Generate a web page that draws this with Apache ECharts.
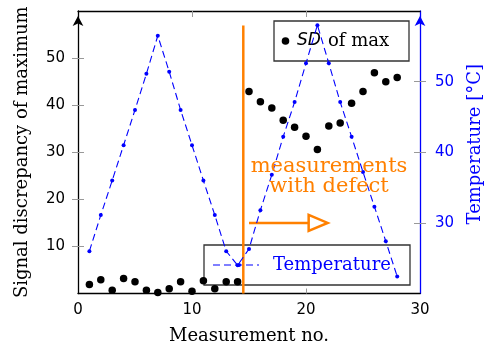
<!DOCTYPE html>
<html><head><meta charset="utf-8">
<script src="https://cdn.jsdelivr.net/npm/echarts@6/dist/echarts.min.js"></script>
<style>html,body{margin:0;padding:0;background:#fff}#c{width:486px;height:352px}</style>
</head><body><div id="c"></div>
<script>
// ---- data ----
const measurementNo = [1,2,3,4,5,6,7,8,9,10,11,12,13,14,15,16,17,18,19,20,21,22,23,24,25,26,27,28];
const sdOfMax = [1.9,2.9,0.7,3.2,2.5,0.7,0.2,1.0,2.5,0.5,2.7,1.0,2.5,2.5,42.9,40.7,39.4,36.8,35.3,33.4,30.6,35.6,36.2,40.4,42.9,46.9,45.0,45.9];
const temperature = [26.0,31.1,36.0,41.0,46.0,51.1,56.5,51.4,46.0,41.0,36.0,31.1,26.0,24.0,26.3,31.8,36.8,42.2,47.1,52.6,58.0,52.6,47.1,42.2,37.2,32.3,27.4,22.4];
const xTickLabels = [0,10,20,30];
const xInnerTicks = [10,20];
const leftTicks = [10,20,30,40,50];
const rightTicks = [30,40,50];
const defectLine = [[14.5, 0, 56.9]];          // x, from y, to y (left axis units)
const defectArrow = [[15, 15, 21.9, 15]];       // x0, y0, x1, y1 (left axis units)
const annotationText = 'measurements\nwith defect';

const ORANGE = '#ff8000', BLUE = '#0000ff', TICK = '#999';
const serif = 'DejaVu Serif', sans = 'DejaVu Sans';

const sdData = measurementNo.map((x, i) => [x, sdOfMax[i]]);
const tData = measurementNo.map((x, i) => [x, temperature[i]]);

const chart = echarts.init(document.getElementById('c'), null, {renderer: 'canvas'});

function yAxisBase(min, max, side) {
  return {type: 'value', min, max, interval: 10, position: side, splitLine: {show: false}};
}

chart.setOption({
  animation: false,
  backgroundColor: '#fff',
  grid: {left: 78, right: 66, top: 11, bottom: 58.5, containLabel: false, outerBoundsMode: 'none'},
  xAxis: [
    {type: 'value', min: 0, max: 30, interval: 10, position: 'bottom',
     axisLine: {show: true, onZero: false, lineStyle: {color: '#000', width: 1.3}},
     axisTick: {show: true, inside: true, length: 5, customValues: xInnerTicks, lineStyle: {color: TICK, width: 1}},
     axisLabel: {show: true, margin: 9, customValues: xTickLabels, fontFamily: sans, fontSize: 15, color: '#000'},
     splitLine: {show: false},
     name: 'Measurement no.', nameLocation: 'middle', nameGap: 34,
     nameTextStyle: {fontFamily: serif, fontSize: 18, color: '#000'}},
    {type: 'value', min: 0, max: 30, interval: 10, position: 'top',
     axisLine: {show: true, onZero: false, lineStyle: {color: '#000', width: 1.3}},
     axisTick: {show: true, inside: true, length: 6, customValues: xInnerTicks, lineStyle: {color: TICK, width: 1}},
     axisLabel: {show: false}, splitLine: {show: false}}
  ],
  yAxis: [
    Object.assign(yAxisBase(0, 60, 'left'), {
      axisLine: {show: true, onZero: false, symbol: ['none', 'arrow'], symbolSize: [8, 10], symbolOffset: [0, -5],
                 lineStyle: {color: '#000', width: 1.3}},
      axisTick: {show: true, inside: false, length: 6, customValues: leftTicks, lineStyle: {color: TICK, width: 1}},
      axisLabel: {show: true, margin: 13, customValues: leftTicks, fontFamily: sans, fontSize: 15, color: '#000'},
      name: 'Signal discrepancy of maximum', nameLocation: 'middle', nameGap: 47,
      nameTextStyle: {fontFamily: serif, fontSize: 18, color: '#000'}
    }),
    Object.assign(yAxisBase(20, 60, 'right'), {
      axisLine: {show: true, onZero: false, symbol: ['none', 'arrow'], symbolSize: [8, 10], symbolOffset: [0, -5],
                 lineStyle: {color: BLUE, width: 1.3}},
      axisTick: {show: true, inside: false, length: 6, customValues: rightTicks, lineStyle: {color: TICK, width: 1}},
      axisLabel: {show: true, margin: 15, customValues: rightTicks, fontFamily: sans, fontSize: 15, color: BLUE},
      name: 'Temperature [°C]', nameLocation: 'middle', nameGap: 46,
      nameTextStyle: {fontFamily: serif, fontSize: 18, color: BLUE, padding: [0, 0, 0, 16]}
    }),
    Object.assign(yAxisBase(0, 60, 'left'), {
      axisLine: {show: false, onZero: false},
      axisTick: {show: true, inside: true, length: 6, customValues: leftTicks, lineStyle: {color: TICK, width: 1}},
      axisLabel: {show: false}
    }),
    Object.assign(yAxisBase(20, 60, 'right'), {
      axisLine: {show: false, onZero: false},
      axisTick: {show: true, inside: true, length: 6, customValues: rightTicks, lineStyle: {color: TICK, width: 1}},
      axisLabel: {show: false}
    })
  ],
  series: [
    {name: 'SD of max', type: 'scatter', xAxisIndex: 0, yAxisIndex: 0, data: sdData,
     symbol: 'circle', symbolSize: 7.5, itemStyle: {color: '#000', opacity: 1}, z: 3},
    {name: 'Temperature', type: 'line', xAxisIndex: 0, yAxisIndex: 1, data: tData,
     symbol: 'circle', symbolSize: 4, showSymbol: true,
     lineStyle: {color: BLUE, width: 1.1, type: [7, 4]}, itemStyle: {color: BLUE, opacity: 1}, z: 4},
    {type: 'custom', xAxisIndex: 0, yAxisIndex: 0, data: defectLine, z: 2,
     encode: {x: 0, y: [1, 2]},
     renderItem: (params, api) => {
       const a = api.coord([api.value(0), api.value(1)]);
       const b = api.coord([api.value(0), api.value(2)]);
       return {type: 'line', shape: {x1: a[0], y1: a[1], x2: b[0], y2: b[1]},
               style: {stroke: ORANGE, lineWidth: 2.5}};
     }},
    {type: 'custom', xAxisIndex: 0, yAxisIndex: 0, data: defectArrow, z: 2,
     encode: {x: [0, 2], y: [1, 3]},
     renderItem: (params, api) => {
       const a = api.coord([api.value(0), api.value(1)]);
       const b = api.coord([api.value(2), api.value(3)]);
       const hl = 19, hh = 8;
       return {type: 'group', children: [
         {type: 'line', shape: {x1: a[0], y1: a[1], x2: b[0] - hl, y2: b[1]},
          style: {stroke: ORANGE, lineWidth: 2.5}},
         {type: 'polygon', shape: {points: [[b[0] - hl, b[1] - hh], [b[0], b[1]], [b[0] - hl, b[1] + hh]]},
          style: {fill: '#fff', stroke: ORANGE, lineWidth: 2.5, lineJoin: 'miter'}}
       ]};
     }}
  ],
  graphic: [
    {type: 'text', z: 5, style: {text: annotationText, x: 329, y: 177, align: 'center', verticalAlign: 'middle',
      fill: ORANGE, font: '21px "DejaVu Serif"', lineHeight: 20}},
    {type: 'group', z: 100, children: [
      {type: 'rect', shape: {x: 274, y: 21, width: 135, height: 40},
       style: {fill: 'none', stroke: '#333', lineWidth: 1.3}},
      {type: 'circle', shape: {cx: 285.5, cy: 41, r: 3.8}, style: {fill: '#000'}},
      {type: 'text', style: {x: 297, y: 41, verticalAlign: 'middle', text: 'SD',
        font: 'italic 17px "DejaVu Sans"', fill: '#000'}},
      {type: 'text', style: {x: 328, y: 41, verticalAlign: 'middle', text: 'of max',
        font: '18px "DejaVu Serif"', fill: '#000'}}
    ]},
    {type: 'group', z: 100, children: [
      {type: 'rect', shape: {x: 204, y: 245, width: 206, height: 40},
       style: {fill: 'rgba(255,255,255,0.6)', stroke: '#333', lineWidth: 1.3}},
      {type: 'line', shape: {x1: 213, y1: 265, x2: 259, y2: 265},
       style: {stroke: BLUE, lineWidth: 1.1, lineDash: [7, 4]}},
      {type: 'circle', shape: {cx: 239, cy: 265, r: 2}, style: {fill: BLUE}},
      {type: 'text', style: {x: 273, y: 265, verticalAlign: 'middle', text: 'Temperature',
        font: '18px "DejaVu Serif"', fill: BLUE}}
    ]}
  ]
});
</script>
</body></html>
